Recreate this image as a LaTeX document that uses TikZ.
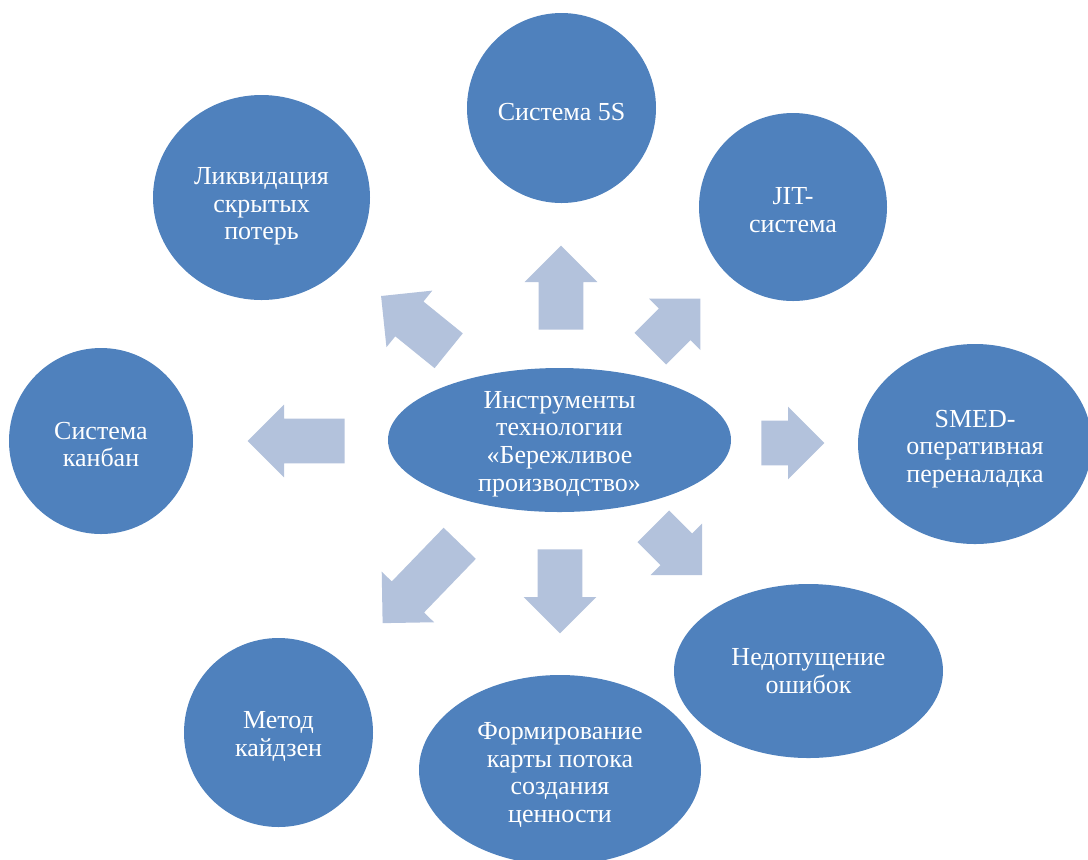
\documentclass[tikz,border=0pt]{standalone}
\usepackage{fontspec}
\setmainfont{Liberation Serif}
\usetikzlibrary{shapes, arrows, positioning}
\definecolor{discblue}{RGB}{79,129,189}
\definecolor{arrowblue}{RGB}{179,194,220}
\tikzstyle{disctext}=[text=white,align=center,inner sep=0pt,font=\fontsize{13}{13.8}\selectfont]
\tikzstyle{disc}=[shape=ellipse,fill=discblue,inner sep=0pt]
\tikzstyle{blockarrow}=[shape=single arrow,fill=arrowblue,inner xsep=0pt,inner ysep=11pt,minimum width=36pt,single arrow head extend=7pt,single arrow tip angle=90,anchor=tail]

\begin{document}
\begin{tikzpicture}[x=0.5pt,y=-0.5pt]
\clip (0,0) rectangle (1088,859);
% centre
\node[disc,minimum width=171.5pt,minimum height=72pt,label={[disctext,yshift=-2pt]center:Инструменты\\технологии\\«Бережливое\\производство»}] (n0) at (559.5,440) {};
% outer ring
\node[disc,minimum width=94.5pt,minimum height=95pt,label={[disctext,yshift=-2pt]center:Система 5S}] (n1) at (561.5,108) {};
\node[disc,minimum width=94pt,minimum height=94pt,label={[disctext,yshift=-1.5pt]center:JIT-\\система}] (n2) at (793,207) {};
\node[disc,minimum width=117pt,minimum height=100pt,label={[disctext,yshift=-2.5pt]center:SMED-\\оперативная\\переналадка}] (n3) at (975,444) {};
\node[disc,minimum width=134.5pt,minimum height=87pt,label={[disctext]center:Недопущение\\ошибок}] (n4) at (808.5,671) {};
\node[disc,minimum width=141pt,minimum height=95pt,label={[disctext,yshift=-2.5pt]center:Формирование\\карты потока\\создания\\ценности}] (n5) at (560,770) {};
\node[disc,minimum width=94.5pt,minimum height=94.5pt,label={[disctext,yshift=-2pt]center:Метод\\кайдзен}] (n6) at (278.5,732.5) {};
\node[disc,minimum width=92pt,minimum height=93pt,label={[disctext,yshift=-1.75pt]center:Система\\канбан}] (n7) at (101,441) {};
\node[disc,minimum width=108.5pt,minimum height=102.5pt,label={[disctext,yshift=-4.5pt]center:Ликвидация\\скрытых\\потерь}] (n8) at (261.5,197.5) {};
% arrows
\node[blockarrow,minimum height=42pt,rotate=90] (a1) at (561,330) {};
\node[blockarrow,minimum height=35.5pt,rotate=45] (a2) at (650,349) {};
\node[blockarrow,minimum height=31.5pt,rotate=0] (a3) at (761,443) {};
\node[blockarrow,minimum height=34.5pt,rotate=-45] (a4) at (653,526) {};
\node[blockarrow,minimum height=42pt,rotate=-90] (a5) at (560,549) {};
\node[blockarrow,minimum height=55.5pt,rotate=-134] (a6) at (460,543) {};
\node[blockarrow,minimum height=48.5pt,rotate=180] (a7) at (345,441) {};
\node[blockarrow,minimum height=43.5pt,rotate=141] (a8) at (449,351) {};

\end{tikzpicture}
\end{document}
